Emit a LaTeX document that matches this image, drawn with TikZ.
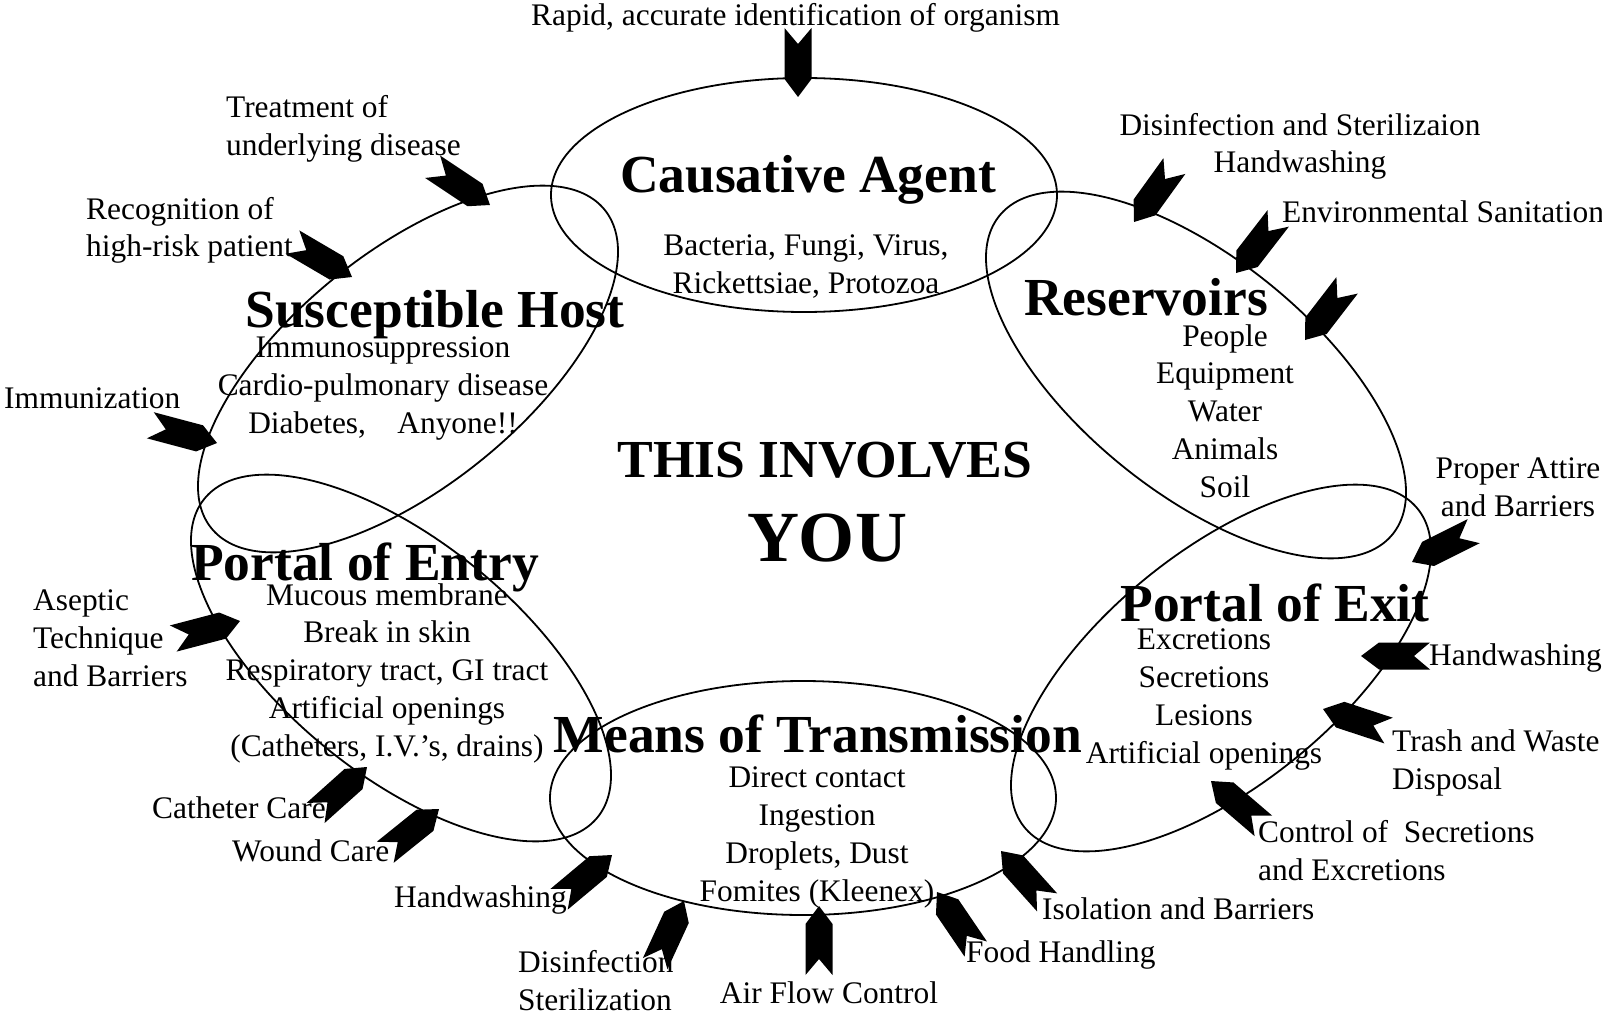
\documentclass[tikz,border=0pt]{standalone}
\usepackage{fontspec}
\setmainfont{Liberation Serif}
\begin{document}
\begin{tikzpicture}[x=1pt,y=-1pt,
  ring/.style={draw=black,line width=1.8pt},
  body/.style={inner sep=0pt,font=\fontsize{31.4}{37.7}\selectfont},
  title/.style={inner sep=0pt,font=\fontsize{53.5}{60}\selectfont\bfseries},
  chevron/.style={fill=black}]
\useasboundingbox (0,0) rectangle (1602,1016);

% the six links of the chain of infection
\draw[ring] (804,195) ellipse [x radius=253, y radius=117];
\draw[ring, rotate around={-39:(1196,375)}] (1196,375) ellipse [x radius=253, y radius=117];
\draw[ring, rotate around={39:(1221,668)}] (1221,668) ellipse [x radius=253, y radius=117];
\draw[ring] (803,798) ellipse [x radius=253, y radius=117];
\draw[ring, rotate around={-39:(401,658)}] (401,658) ellipse [x radius=253, y radius=117];
\draw[ring, rotate around={39:(408,369)}] (408,369) ellipse [x radius=253, y radius=117];

% chevrons breaking the chain: tip position and heading
\foreach \px/\py/\ang in {798/97/-90, 490/205/-33.7, 352/277/-30.4, 217/443/-14.9,
    240/621/14.7, 367/767/41.8, 439/809/38.8, 612/855/39.9, 684/901/65.3,
    819/906/90, 937/892/124.2, 1001/851/131.9, 1211/781/139.4, 1323/709/161.8,
    1361/656/180, 1412/562/206.6, 1134/222/-125.8, 1236/273/-127.7, 1305/340/-127.6}
  \fill[chevron, shift={(\px,\py)}, rotate=\ang]
    (0,0) -- (-18,13.5) -- (-69,13.5) -- (-53,0) -- (-69,-13.5) -- (-18,-13.5) -- cycle;

% link titles
\node[title, anchor=base] (agent) at (808,193) {Causative Agent};
\node[title, anchor=base] (reserv) at (1146,315) {Reservoirs};
\node[title, anchor=base] (exit) at (1275,621) {Portal of Exit};
\node[title, anchor=base] (trans) at (818,752) {Means of Transmission};
\node[title, anchor=base] (entry) at (365,580) {Portal of Entry};
\node[title, anchor=base] (host) at (435,327) {Susceptible Host};

% centre message
\node[title, anchor=base] (involves) at (825,477) {THIS INVOLVES};
\node[title, anchor=base, font=\fontsize{72}{80}\selectfont\bfseries] (you) at (827,561) {YOU};

% contents of each link (multi-line nodes sit on the baseline of their last line)
\node[body, anchor=base, align=center] (agentlist) at (806,293)
  {Bacteria, Fungi, Virus,\\Rickettsiae, Protozoa};
\node[body, anchor=base, align=center] (reservlist) at (1225,497)
  {People\\Equipment\\Water\\Animals\\Soil};
\node[body, anchor=base, align=center] (exitlist) at (1204,763)
  {Excretions\\Secretions\\Lesions\\Artificial openings};
\node[body, anchor=base, align=center] (translist) at (817,901)
  {Direct contact\\Ingestion\\Droplets, Dust\\Fomites (Kleenex)};
\node[body, anchor=base, align=center] (entrylist) at (387,756)
  {Mucous membrane\\Break in skin\\Respiratory tract, GI tract\\Artificial openings\\(Catheters, I.V.’s, drains)};
\node[body, anchor=base, align=center] (hostlist) at (383,433)
  {Immunosuppression\\Cardio-pulmonary disease\\Diabetes,\ \ \ \ Anyone!!};

% control measures
\node[body, anchor=base] (ident) at (795.5,26) {Rapid, accurate identification of organism};
\node[body, anchor=base west, align=left] (treat) at (226,155.5) {Treatment of\\underlying disease};
\node[body, anchor=base west, align=left] (recog) at (86,257) {Recognition of\\high-risk patient};
\node[body, anchor=base west] (immun) at (4,408) {Immunization};
\node[body, anchor=base west, align=left] (asep) at (33,686) {Aseptic\\Technique\\and Barriers};
\node[body, anchor=base west] (cath) at (152,818) {Catheter Care};
\node[body, anchor=base west] (wound) at (232,861) {Wound Care};
\node[body, anchor=base west] (handbl) at (394,907) {Handwashing};
\node[body, anchor=base west, align=left] (disbl) at (518,1010) {Disinfection\\Sterilization};
\node[body, anchor=base] (air) at (829,1003) {Air Flow Control};
\node[body, anchor=base west] (food) at (966,962) {Food Handling};
\node[body, anchor=base west] (isol) at (1042,919) {Isolation and Barriers};
\node[body, anchor=base west, align=left] (ctrl) at (1258,880) {Control of\ \ Secretions\\and Excretions};
\node[body, anchor=base west, align=left] (trash) at (1392,789) {Trash and Waste\\Disposal};
\node[body, anchor=base west] (handr) at (1429,665) {Handwashing};
\node[body, anchor=base, align=center] (attire) at (1518,516) {Proper Attire\\and Barriers};
\node[body, anchor=base west] (envsan) at (1282,223) {Environmental Sanitation};
\node[body, anchor=base, align=center] (disr) at (1300,173) {Disinfection and Sterilizaion\\Handwashing};
\end{tikzpicture}
\end{document}
